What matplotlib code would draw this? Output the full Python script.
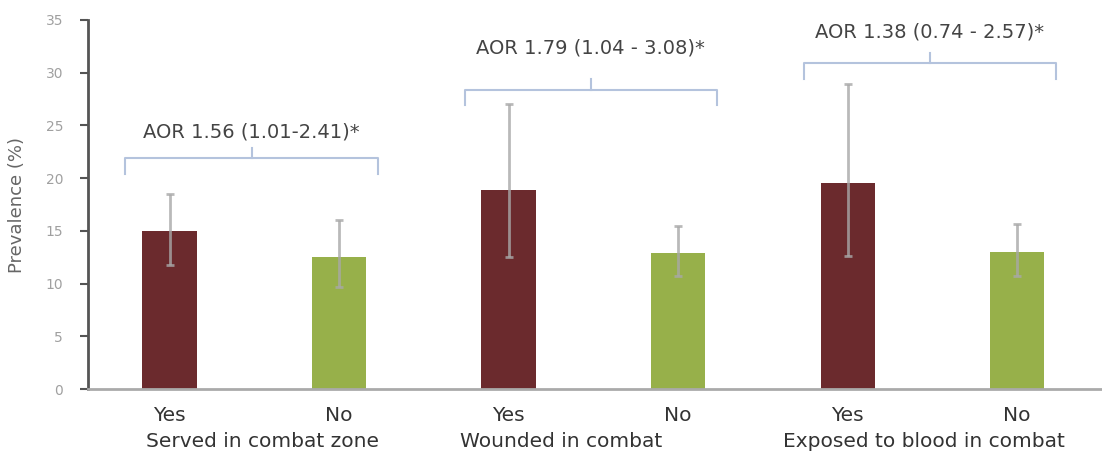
import numpy as np
import matplotlib.pyplot as plt

groups = ["Served in combat zone", "Wounded in combat", "Exposed to blood in combat"]
answers = ["Yes", "No", "Yes", "No", "Yes", "No"]
prevalence = [15.0, 12.5, 18.9, 12.9, 19.5, 13.0]
ci_low = [11.8, 9.7, 12.5, 10.7, 12.6, 10.7]
ci_high = [18.5, 16.0, 27.0, 15.5, 28.9, 15.7]
aor_labels = ["AOR 1.56 (1.01-2.41)*", "AOR 1.79 (1.04 - 3.08)*", "AOR 1.38 (0.74 - 2.57)*"]
bracket_y = [21.9, 28.4, 30.9]
label_y = [24.4, 32.35, 33.9]

red = "#6b2a2d"
green = "#97b04a"
bracket_col = "#b4c3dd"

fig = plt.figure(figsize=(11.02, 4.53), dpi=100)
ax = fig.add_axes([0.08, 0.141, 0.92, 0.815])

x = np.arange(len(prevalence))
cols = [red if a == "Yes" else green for a in answers]
ax.bar(x, prevalence, width=0.32, color=cols, zorder=2)
err = [np.array(prevalence) - np.array(ci_low), np.array(ci_high) - np.array(prevalence)]
ax.errorbar(x, prevalence, yerr=err, fmt="none", ecolor="#a8a8a8", elinewidth=2, capsize=3, capthick=2, alpha=0.8, zorder=3)

for i in range(3):
    x0 = 2 * i - 0.26
    x1 = 2 * i + 1.23
    xm = (x0 + x1) / 2
    y = bracket_y[i]
    ax.plot([x0, x0, x1, x1], [y - 1.5, y, y, y - 1.5], color=bracket_col, lw=1.5, zorder=1)
    ax.plot([xm, xm], [y, y + 1.0], color=bracket_col, lw=1.5)
    ax.text(xm, label_y[i], aor_labels[i], ha="center", va="center", fontsize=14, color="#444444")

group_x = [0.55, 2.31, 4.45]
for gx, g in zip(group_x, groups):
    ax.text(gx, -5.0, g, ha="center", va="center", fontsize=14.5, color="#333333")

ax.set_xticks(x)
ax.set_xticklabels(answers, fontsize=14.5, color="#333333")
ax.tick_params(axis="x", length=0, pad=12)
ax.set_xlim(-0.48, 5.5)
ax.set_ylim(0, 35)
ax.set_yticks(range(0, 36, 5))
ax.tick_params(axis="y", labelsize=10, labelcolor="#a0a0a0", color="#555555", length=6, width=1.5, pad=12)
ax.set_ylabel("Prevalence (%)", fontsize=13, color="#666666", labelpad=14)

for s in ["top", "right"]:
    ax.spines[s].set_visible(False)
ax.spines["left"].set_color("#555555")
ax.spines["left"].set_linewidth(2)
ax.spines["bottom"].set_color("#aaaaaa")
ax.spines["bottom"].set_linewidth(2)

plt.savefig("out.png", dpi=100)
